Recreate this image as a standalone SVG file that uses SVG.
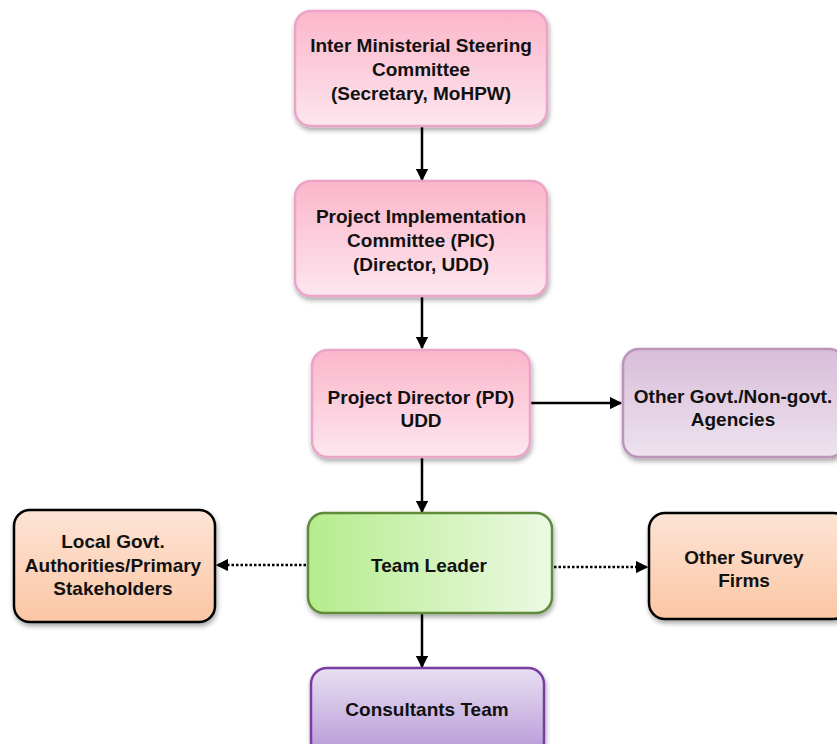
<svg xmlns="http://www.w3.org/2000/svg" width="837" height="744" viewBox="0 0 837 744">
<defs>
<linearGradient id="pink" x1="0" y1="0" x2="0" y2="1"><stop offset="0" stop-color="#fbb6cb"/><stop offset="1" stop-color="#fde6ee"/></linearGradient>
<linearGradient id="mauve" x1="0" y1="0" x2="0" y2="1"><stop offset="0" stop-color="#d9bdd9"/><stop offset="1" stop-color="#ede3ee"/></linearGradient>
<linearGradient id="green" x1="0" y1="0" x2="1" y2="0"><stop offset="0" stop-color="#b5ec8c"/><stop offset="1" stop-color="#ecf9e4"/></linearGradient>
<linearGradient id="orange" x1="0" y1="0" x2="0" y2="1"><stop offset="0" stop-color="#fde4d6"/><stop offset="1" stop-color="#fbc6a4"/></linearGradient>
<linearGradient id="purple" x1="0" y1="0" x2="0" y2="1"><stop offset="0" stop-color="#e8e0f2"/><stop offset="1" stop-color="#b596d6"/></linearGradient>
<filter id="sh" x="-10%" y="-10%" width="125%" height="130%"><feDropShadow dx="1" dy="3" stdDeviation="2.5" flood-color="#000" flood-opacity="0.35"/></filter>
<marker id="ah" viewBox="0 0 10 10" refX="9" refY="5" markerWidth="5" markerHeight="5" orient="auto"><path d="M0,0 L10,5 L0,10 z" fill="#000"/></marker>
</defs>
<style>
text{font-family:"Liberation Sans",Arial,sans-serif;font-weight:bold;font-size:19px;fill:#111;text-anchor:middle}
.box{filter:url(#sh);stroke-width:2.5}
.c{stroke:#000;stroke-width:2.5;fill:none;marker-end:url(#ah)}
.d{stroke:#000;stroke-width:2.5;fill:none;stroke-dasharray:2.5 2;marker-end:url(#ah)}
</style>
<g id="connectors">
<line class="c" x1="422" y1="127" x2="422" y2="180"/>
<line class="c" x1="422" y1="297" x2="422" y2="348"/>
<line class="c" x1="422" y1="458" x2="422" y2="512"/>
<line class="c" x1="422" y1="614" x2="422" y2="667"/>
<line class="c" x1="531" y1="403" x2="621" y2="403"/>
<line class="d" x1="306" y1="565" x2="217" y2="565"/>
<line class="d" x1="554" y1="567" x2="647" y2="567"/>
</g>
<g id="imsc">
<rect class="box" x="295" y="11" width="252" height="115" rx="16" fill="url(#pink)" stroke="#eba3c8"/>
<text x="421" y="52">Inter Ministerial Steering</text>
<text x="421" y="76">Committee</text>
<text x="421" y="100">(Secretary, MoHPW)</text>
</g>
<g id="pic">
<rect class="box" x="295" y="181" width="252" height="115" rx="16" fill="url(#pink)" stroke="#eba3c8"/>
<text x="421" y="223">Project Implementation</text>
<text x="421" y="247">Committee (PIC)</text>
<text x="421" y="271">(Director, UDD)</text>
</g>
<g id="pd">
<rect class="box" x="312" y="350" width="218" height="107" rx="16" fill="url(#pink)" stroke="#eba3c8"/>
<text x="421" y="404">Project Director (PD)</text>
<text x="421" y="427">UDD</text>
</g>
<g id="other-agencies">
<rect class="box" x="623" y="349" width="222" height="108" rx="16" fill="url(#mauve)" stroke="#bb94b8"/>
<text x="733" y="403">Other Govt./Non-govt.</text>
<text x="733" y="426">Agencies</text>
</g>
<g id="team-leader">
<rect class="box" x="308" y="513" width="244" height="100" rx="16" fill="url(#green)" stroke="#5e8b3b"/>
<text x="429" y="572">Team Leader</text>
</g>
<g id="local-govt">
<rect class="box" x="14" y="510" width="201" height="112" rx="16" fill="url(#orange)" stroke="#000"/>
<text x="113" y="548">Local Govt.</text>
<text x="113" y="572">Authorities/Primary</text>
<text x="113" y="595">Stakeholders</text>
</g>
<g id="other-survey">
<rect class="box" x="649" y="513" width="200" height="106" rx="16" fill="url(#orange)" stroke="#000"/>
<text x="744" y="564">Other Survey</text>
<text x="744" y="587">Firms</text>
</g>
<g id="consultants">
<rect class="box" x="311" y="668" width="233" height="90" rx="16" fill="url(#purple)" stroke="#7b3ca3"/>
<text x="427" y="716">Consultants Team</text>
</g>
</svg>
